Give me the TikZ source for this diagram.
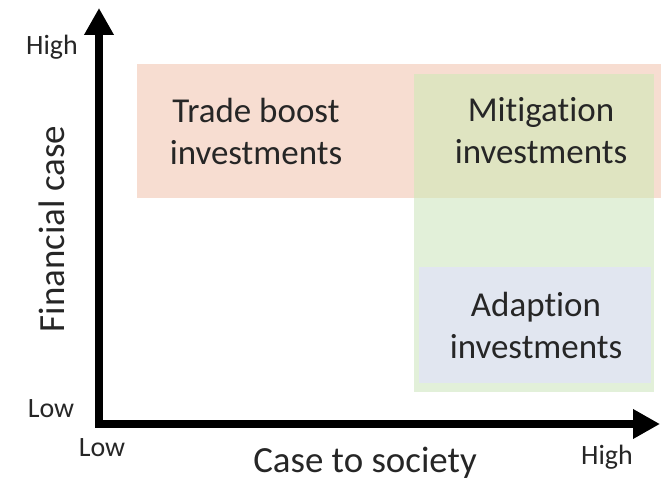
\documentclass[tikz,border=0pt]{standalone}
\usepackage{fontspec}
\setmainfont{Carlito}[RawFeature={-liga;-clig;-dlig;-calt;-ccmp}]
\usetikzlibrary{arrows.meta}
\definecolor{tradepink}{RGB}{247,221,209}
\definecolor{mitiolive}{RGB}{223,228,193}
\definecolor{socgreen}{RGB}{226,240,217}
\definecolor{adaptblue}{RGB}{225,230,240}
\definecolor{labelgray}{RGB}{38,38,38}

\begin{document}
\begin{tikzpicture}[
	axis/.style={line width=4.5pt,line join=miter,{Triangle[length=0.54cm,width=0.56cm]}-{Triangle[length=0.54cm,width=0.56cm]}},
	quad/.style={align=center,text=labelgray,font=\fontsize{19.9}{23.9}\selectfont},
	axlabel/.style={anchor=base,text=labelgray,font=\fontsize{21}{25}\selectfont},
	level/.style={anchor=base,text=labelgray,font=\fontsize{15.9}{19}\selectfont}
	]
	\useasboundingbox (-1.98,-1.1) rectangle (11.24,8.48);
	
	\fill[tradepink] (0.76,4.52) rectangle (11.24,7.2);
	\fill[socgreen] (6.3,0.64) rectangle (11.1,7.0);
	\fill[mitiolive] (6.3,4.52) rectangle (11.1,7.0);
	\fill[adaptblue] (6.4,0.82) rectangle (11.04,3.14);
	
	\node[quad] (trade) at (3.14,5.86) {Trade boost\\investments};
	\node[quad] (mitigation) at (8.84,5.86) {Mitigation\\investments};
	\node[quad] (adaption) at (8.74,1.98) {Adaption\\investments};
	
	\coordinate (origin) at (0,0);
	\coordinate (ytip) at (0,8.32);
	\coordinate (xtip) at (11.22,0);
	\draw[axis] (ytip) -- (origin) -- (xtip);
	
	\node[axlabel] (xlabel) at (5.32,-0.96) {Case to society};
	\node[axlabel,rotate=90] (ylabel) at (-0.68,3.9) {Financial case};
	
	\node[level] (yhigh) at (-0.94,7.38) {High};
	\node[level] (ylow) at (-0.96,0.14) {Low};
	\node[level] (xlow) at (0.06,-0.65) {Low};
	\node[level] (xhigh) at (10.16,-0.8) {High};
\end{tikzpicture}
\end{document}
